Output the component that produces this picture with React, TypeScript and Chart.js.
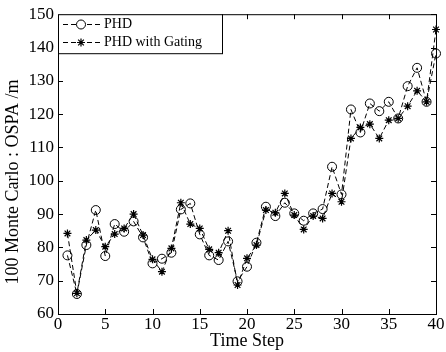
import React, { useEffect, useRef } from "react";
import { Chart, registerables } from "chart.js";
import { drawPoint } from "chart.js/helpers";
Chart.register(...registerables);

const timeSteps = Array.from({ length: 40 }, (_, i) => i + 1);
const phd = [77.6, 66, 80.7, 91.2, 77.4, 87, 84.7, 87.8, 83, 75.2, 76.6, 78.4, 91.4, 93.2, 83.9, 77.6, 76.2, 81.8, 69.8, 74.2, 81.4, 92.2, 89.4, 93.4, 90.2, 88, 90.2, 91.5, 104.2, 95.9, 121.4, 114.5, 123.2, 120.9, 123.7, 118.7, 128.4, 133.9, 123.7, 138.2];
const phdGating = [84.2, 66.2, 82.2, 85.2, 80.2, 84, 85.7, 90, 83.7, 76.4, 72.7, 79.7, 93.4, 87, 85.7, 79.4, 78.4, 85, 68.7, 76.7, 80.7, 91.2, 90.4, 96.2, 89.7, 85.4, 89.4, 88.7, 96.2, 93.7, 112.7, 116, 117, 112.7, 118.2, 118.7, 122.4, 127, 123.7, 145.4];
const seriesNames = ["PHD", "PHD with Gating"];
const xTitle = "Time Step";
const yTitle = "100 Monte Carlo : OSPA /m";
const xMin = 0, xMax = 40, xStep = 5;
const yMin = 60, yMax = 150, yStep = 10;

const FONT = "'Liberation Serif', 'Times New Roman', serif";

const framePlugin = {
  id: "frame",
  afterDraw(chart: any) {
    const { ctx, chartArea: a, scales } = chart;
    const xs = scales.x, ys = scales.y;
    ctx.save();
    ctx.strokeStyle = "#000";
    ctx.lineWidth = 1;
    ctx.setLineDash([]);
    ctx.strokeRect(a.left + 0.5, a.top + 0.5, a.right - a.left, a.bottom - a.top);
    const tl = 5;
    ctx.beginPath();
    xs.ticks.forEach((t: any) => {
      const px = Math.round(xs.getPixelForValue(t.value)) + 0.5;
      ctx.moveTo(px, a.bottom);
      ctx.lineTo(px, a.bottom - tl);
      ctx.moveTo(px, a.top);
      ctx.lineTo(px, a.top + tl);
    });
    ys.ticks.forEach((t: any) => {
      const py = Math.round(ys.getPixelForValue(t.value)) + 0.5;
      ctx.moveTo(a.left, py);
      ctx.lineTo(a.left + tl, py);
      ctx.moveTo(a.right, py);
      ctx.lineTo(a.right - tl, py);
    });
    ctx.stroke();

    // titles
    ctx.fillStyle = "#000";
    ctx.font = `18px ${FONT}`;
    ctx.textAlign = "center";
    ctx.textBaseline = "middle";
    ctx.fillText(xTitle, (a.left + a.right) / 2, 341);
    ctx.save();
    ctx.translate(13, 182);
    ctx.rotate(-Math.PI / 2);
    ctx.fillText(yTitle, 0, 0);
    ctx.restore();

    // legend
    const bx = a.left, by = a.top, bw = 164, bh = 39;
    ctx.fillStyle = "#fff";
    ctx.fillRect(bx, by, bw, bh);
    ctx.strokeStyle = "#000";
    ctx.strokeRect(bx + 0.5, by + 0.5, bw, bh);
    const rows = [24.5, 42.5];
    const styles = ["circle", "star"];
    rows.forEach((ry, i) => {
      ctx.strokeStyle = "#000";
      ctx.lineWidth = 1;
      ctx.setLineDash([5, 3]);
      ctx.beginPath();
      ctx.moveTo(63, ry);
      ctx.lineTo(100, ry);
      ctx.stroke();
      ctx.setLineDash([]);
      ctx.fillStyle = i === 0 ? "#fff" : "#000";
      ctx.lineWidth = i === 0 ? 1 : 1.2;
      drawPoint(ctx, { pointStyle: styles[i], radius: i === 0 ? 4.5 : 4, borderWidth: ctx.lineWidth, rotation: 0 } as any, 81, ry);
      ctx.fillStyle = "#000";
      ctx.font = `14px ${FONT}`;
      ctx.textAlign = "left";
      ctx.textBaseline = "middle";
      ctx.fillText(seriesNames[i], 104, ry);
    });
    ctx.restore();
  },
};

export default function App() {
  const ref = useRef<HTMLCanvasElement>(null);
  useEffect(() => {
    const canvas = ref.current!;
    const chart = new Chart(canvas, {
      type: "line",
      data: {
        labels: timeSteps,
        datasets: [
          {
            label: seriesNames[0],
            data: timeSteps.map((t, i) => ({ x: t, y: phd[i] })),
            borderColor: "#000",
            backgroundColor: "rgba(0,0,0,0)",
            borderWidth: 1,
            borderDash: [5, 3],
            pointStyle: "circle",
            pointRadius: 4.5,
            pointBorderWidth: 1,
            pointBorderColor: "#000",
            pointBackgroundColor: "rgba(0,0,0,0)",
            tension: 0,
            clip: false as any,
          },
          {
            label: seriesNames[1],
            data: timeSteps.map((t, i) => ({ x: t, y: phdGating[i] })),
            borderColor: "#000",
            backgroundColor: "rgba(0,0,0,0)",
            borderWidth: 1,
            borderDash: [5, 3],
            pointStyle: "star",
            pointRadius: 4,
            pointBorderWidth: 1.2,
            pointBorderColor: "#000",
            pointBackgroundColor: "#000",
            tension: 0,
            clip: false as any,
          },
        ],
      },
      options: {
        responsive: false,
        animation: false,
        devicePixelRatio: 1,
        layout: { padding: { left: 0, right: 10, top: 14, bottom: 0 } },
        plugins: { legend: { display: false }, tooltip: { enabled: false } },
        scales: {
          x: {
            type: "linear",
            min: xMin,
            max: xMax,
            ticks: { stepSize: xStep, color: "#000", font: { family: FONT, size: 17 }, padding: 0, maxRotation: 0 },
            grid: { display: false, drawTicks: false },
            border: { display: false },
            afterFit: (s: any) => { s.height = 38; },
          },
          y: {
            type: "linear",
            min: yMin,
            max: yMax,
            ticks: { stepSize: yStep, color: "#000", font: { family: FONT, size: 17 }, padding: 4 },
            grid: { display: false, drawTicks: false },
            border: { display: false },
            afterFit: (s: any) => { s.width = 58; },
          },
        },
      },
      plugins: [framePlugin],
    });
    return () => chart.destroy();
  }, []);
  return (
    <div style={{ position: "absolute", left: 0, top: 0, width: 446, height: 352, background: "#fff" }}>
      <canvas ref={ref} width={446} height={352} style={{ width: 446, height: 352, display: "block" }} />
    </div>
  );
}
